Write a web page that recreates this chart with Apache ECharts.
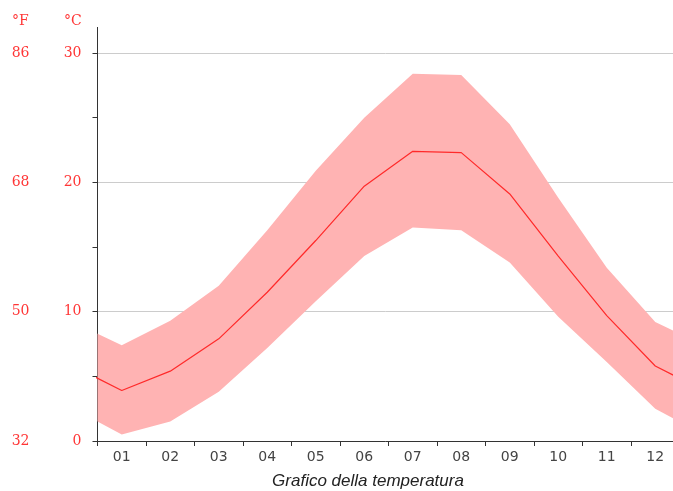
<!DOCTYPE html>
<html>
<head>
<meta charset="utf-8">
<script src="https://cdn.jsdelivr.net/npm/echarts@6/dist/echarts.min.js"></script>
<style>html,body{margin:0;padding:0;background:#fff}#c{width:673px;height:491px}</style>
</head>
<body>
<div id="c"></div>
<script>
const months = ['01','02','03','04','05','06','07','08','09','10','11','12'];
const tMean = [3.9, 5.4, 7.9, 11.5, 15.5, 19.7, 22.4, 22.3, 19.1, 14.3, 9.7, 5.8];
const tMax  = [7.4, 9.3, 12.0, 16.3, 20.9, 25.0, 28.4, 28.3, 24.5, 18.8, 13.4, 9.2];
const tMin  = [0.5, 1.5, 3.8, 7.2, 10.8, 14.3, 16.5, 16.3, 13.8, 9.6, 6.1, 2.5];
const cTicks = [0, 10, 20, 30];
const fTicks = [32, 50, 68, 86];

// wrap the year: previous December before January, next January after December
function wrap(arr) {
  const out = [[-0.5, arr[arr.length - 1]]];
  arr.forEach((v, i) => out.push([i + 0.5, v]));
  out.push([arr.length + 0.5, arr[0]]);
  return out;
}
const maxData = wrap(tMax);
const minData = wrap(tMin);
const meanData = wrap(tMean);
// band rows: [x, min, max]
const bandData = maxData.map((p, i) => [p[0], minData[i][1], p[1]]);

const red = '#ff3636';
const chart = echarts.init(document.getElementById('c'));
chart.setOption({
  animation: false,
  grid: { left: 97.5, top: 53, bottom: 50, width: 582, outerBoundsMode: 'none', containLabel: false },
  xAxis: [
    { type: 'value', min: 0, max: 12, interval: 1,
      axisLine: { show: true, lineStyle: { color: '#333', width: 1 } },
      axisTick: { show: true, length: 5, lineStyle: { color: '#333' } },
      axisLabel: { show: false }, splitLine: { show: false } },
    { type: 'category', data: months, boundaryGap: true, position: 'bottom',
      axisLine: { show: false }, axisTick: { show: false }, splitLine: { show: false },
      axisLabel: { color: '#444', fontFamily: 'DejaVu Sans', fontSize: 14, margin: 9 } }
  ],
  yAxis: [
    { type: 'value', min: 0, max: 30, interval: 10,
      axisLine: { show: true, lineStyle: { color: '#333', width: 1 } },
      axisTick: { show: true, length: 5, lineStyle: { color: '#333' } },
      minorTick: { show: true, splitNumber: 2, length: 5, lineStyle: { color: '#333' } },
      splitLine: { show: true, lineStyle: { color: '#cccccc', width: 1 } },
      axisLabel: { color: red, fontFamily: 'DejaVu Serif', fontSize: 14, margin: 16 } },
    { type: 'value', min: 32, max: 86, interval: 18, position: 'left',
      axisLine: { show: false }, axisTick: { show: false }, splitLine: { show: false },
      axisLabel: { color: red, fontFamily: 'DejaVu Serif', fontSize: 14, margin: 68 } }
  ],
  series: [
    { type: 'custom', xAxisIndex: 0, yAxisIndex: 0, data: [0], clip: true, silent: true, z: 1,
      renderItem: function (params, api) {
        const upper = bandData.map(r => api.coord([r[0], r[2]]));
        const lower = bandData.slice().reverse().map(r => api.coord([r[0], r[1]]));
        const cs = params.coordSys;
        return {
          type: 'polygon',
          shape: { points: upper.concat(lower) },
          style: { fill: '#ffb3b3' },
          clipPath: { type: 'rect', shape: { x: cs.x, y: cs.y, width: cs.width, height: cs.height } }
        };
      } },
    { type: 'line', xAxisIndex: 0, yAxisIndex: 0, data: meanData,
      symbol: 'none', lineStyle: { color: '#ff2a2a', width: 1.2 }, clip: true, z: 5 }
  ],
  graphic: [
    { type: 'line', shape: { x1: 97.5, y1: 27, x2: 97.5, y2: 53 },
      style: { stroke: '#333', lineWidth: 1 } },
    { type: 'text', left: 12, top: 14,
      style: { text: '°F', fill: red, font: '14px "DejaVu Serif"' } },
    { type: 'text', left: 64, top: 14,
      style: { text: '°C', fill: red, font: '14px "DejaVu Serif"' } },
    { type: 'text', x: 368, y: 481,
      style: { text: 'Grafico della temperatura', fill: '#222', textAlign: 'center',
        textVerticalAlign: 'middle', font: 'italic 17px "Liberation Sans"' } }
  ]
});
</script>
</body>
</html>
